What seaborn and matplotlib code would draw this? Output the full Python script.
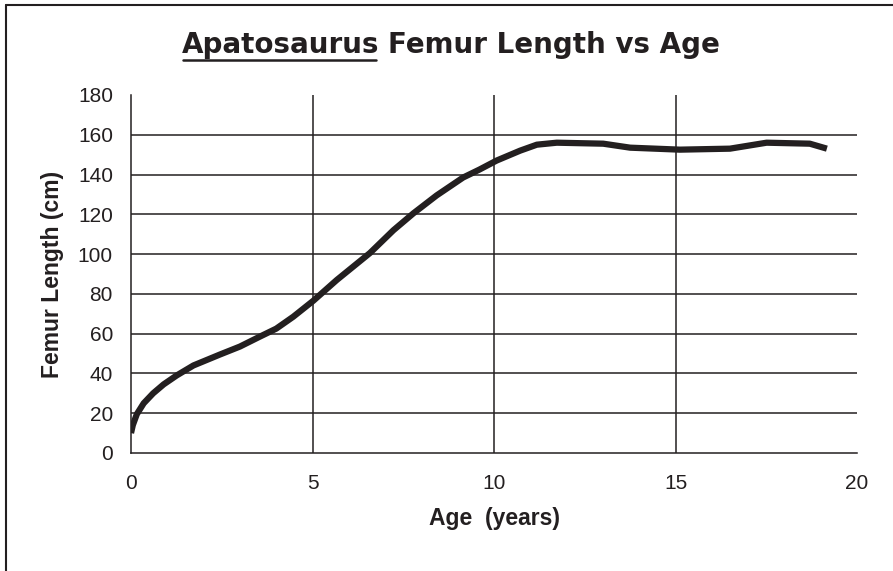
import matplotlib
matplotlib.use("Agg")
import matplotlib.pyplot as plt
from matplotlib import font_manager
from matplotlib.lines import Line2D
import seaborn as sns
import pandas as pd

# values
age_years = [0.0, 0.05, 0.16, 0.35, 0.61, 0.9, 1.26, 1.72, 2.45, 3.0, 3.55,
             4.0, 4.47, 5.02, 5.67, 6.58, 7.23, 7.78, 8.42, 9.15, 9.6, 10.07,
             10.72, 11.18, 11.73, 13.01, 13.75, 15.12, 16.5, 17.51, 18.7, 19.17]
femur_cm = [10.0, 14.0, 19.5, 25.0, 30.0, 34.5, 39.0, 44.0, 49.5, 53.5, 58.5,
            62.5, 68.5, 76.5, 87.0, 100.5, 112.0, 120.5, 129.5, 138.5, 142.5,
            147.0, 152.0, 155.0, 156.0, 155.5, 153.5, 152.5, 153.0, 156.0,
            155.5, 153.0]
x_ticks = [0, 5, 10, 15, 20]
y_ticks = [0, 20, 40, 60, 80, 100, 120, 140, 160, 180]

INK = "#231f20"

installed = {f.name for f in font_manager.fontManager.ttflist}
narrow = "Liberation Sans Narrow" if "Liberation Sans Narrow" in installed else "Liberation Sans"

sns.set_style("white")
plt.rcParams["font.family"] = ["Liberation Sans", "DejaVu Sans"]

df = pd.DataFrame({"age": age_years, "femur": femur_cm})

fig = plt.figure(figsize=(8.93, 5.71), dpi=100)
ax = fig.add_axes([0.1467, 0.2067, 0.8130, 0.6270])

# gridlines like the spreadsheet: none at the top / right limits
ax.hlines(y_ticks[1:-1], x_ticks[0], x_ticks[-1], color=INK, lw=1.1, zorder=1)
ax.vlines(x_ticks[1:-1], y_ticks[0], y_ticks[-1], color=INK, lw=1.1, zorder=1)

sns.lineplot(data=df, x="age", y="femur", ax=ax, color=INK, lw=4.5,
             solid_capstyle="butt", zorder=3)

ax.set_xlim(x_ticks[0], x_ticks[-1])
ax.set_ylim(y_ticks[0], y_ticks[-1])
ax.set_xticks(x_ticks)
ax.set_yticks(y_ticks)
ax.tick_params(direction="out", length=5, width=1.1, color=INK,
               labelsize=15, labelcolor=INK)
ax.tick_params(axis="x", pad=10)
ax.tick_params(axis="y", pad=8)
for lab in ax.get_xticklabels() + ax.get_yticklabels():
    lab.set_fontfamily(narrow)

for side in ["top", "right"]:
    ax.spines[side].set_visible(False)
for side in ["left", "bottom"]:
    ax.spines[side].set_color(INK)
    ax.spines[side].set_linewidth(1.1)

ax.set_xlabel("Age  (years)", fontsize=16.5, fontweight="bold", color=INK, labelpad=10)
ax.set_ylabel("Femur Length (cm)", fontsize=16.5, fontweight="bold", color=INK, labelpad=10)

# title with the genus name underlined
t1 = fig.text(0.204, 0.921, "Apatosaurus", fontsize=20, fontweight="bold",
              color=INK, family=["DejaVu Sans"], va="center", ha="left")
fig.canvas.draw()
bb = t1.get_window_extent().transformed(fig.transFigure.inverted())
fig.text(bb.x1 + 0.009, 0.921, "Femur Length vs Age", fontsize=20, fontweight="bold",
         color=INK, family=["DejaVu Sans"], va="center", ha="left")
fig.add_artist(Line2D([bb.x0 + 0.001, bb.x1 - 0.004], [bb.y0 - 0.002, bb.y0 - 0.002],
                      transform=fig.transFigure, color=INK, lw=1.8))

# outer frame (left and top edges visible)
fig.add_artist(Line2D([0.0067, 0.0067], [0.0, 0.991], transform=fig.transFigure,
                      color=INK, lw=1.5))
fig.add_artist(Line2D([0.0067, 1.0], [0.991, 0.991], transform=fig.transFigure,
                      color=INK, lw=1.5))

fig.savefig("out.png", dpi=100)
